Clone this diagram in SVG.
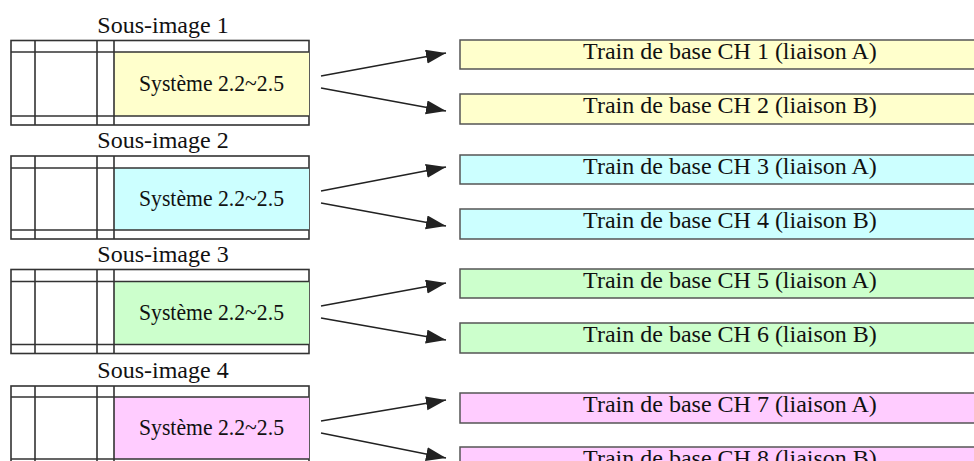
<svg xmlns="http://www.w3.org/2000/svg" width="974" height="461" viewBox="0 0 974 461">
<style>
text{font-family:"Liberation Serif","Times New Roman",serif;font-size:24px;fill:#111;text-anchor:middle}
.grid{fill:none;stroke:#333;stroke-width:1.6}
.cell{fill:#fff;stroke:#333;stroke-width:1.6}
.ch{stroke:#555;stroke-width:1.5}
.y{fill:#FFFFCC}.c{fill:#CCFFFF}.g{fill:#CCFFCC}.p{fill:#FFCCFF}
.arr{stroke:#222;stroke-width:1.5;fill:none;marker-end:url(#ah)}
</style>
<defs>
<marker id="ah" markerUnits="userSpaceOnUse" markerWidth="21" markerHeight="15" refX="20" refY="7" orient="auto">
<path d="M0,0 L20,7 L0,14 z" fill="#222"/>
</marker>
</defs>
<rect width="974" height="461" fill="#fff"/>

<g id="sub1">
<text x="163" y="32.5">Sous-image 1</text>
<rect class="cell" x="11" y="40.5" width="298" height="84.5"/>
<rect class="y" x="114" y="52" width="195" height="64"/>
<path class="grid" d="M11,52H309M11,116H309M35,40.5V125M97,40.5V125M114,40.5V125"/>
<text x="211.5" y="91" textLength="145" lengthAdjust="spacingAndGlyphs">Système 2.2~2.5</text>
</g>
<g id="sub2">
<text x="163" y="148">Sous-image 2</text>
<rect class="cell" x="11" y="156" width="298" height="83"/>
<rect class="c" x="114" y="168" width="195" height="62"/>
<path class="grid" d="M11,168H309M11,230H309M35,156V239M97,156V239M114,156V239"/>
<text x="211.5" y="206" textLength="145" lengthAdjust="spacingAndGlyphs">Système 2.2~2.5</text>
</g>
<g id="sub3">
<text x="163" y="261.5">Sous-image 3</text>
<rect class="cell" x="11" y="269.5" width="298" height="84"/>
<rect class="g" x="114" y="281.5" width="195" height="63"/>
<path class="grid" d="M11,281.5H309M11,344.5H309M35,269.5V353.5M97,269.5V353.5M114,269.5V353.5"/>
<text x="211.5" y="320" textLength="145" lengthAdjust="spacingAndGlyphs">Système 2.2~2.5</text>
</g>
<g id="sub4">
<text x="163" y="378">Sous-image 4</text>
<rect class="cell" x="11" y="386" width="298" height="82"/>
<rect class="p" x="114" y="397" width="195" height="62"/>
<path class="grid" d="M11,397H309M11,459H309M35,386V468M97,386V468M114,386V468"/>
<text x="211.5" y="435" textLength="145" lengthAdjust="spacingAndGlyphs">Système 2.2~2.5</text>
</g>

<g id="ch1"><rect class="ch y" x="460" y="40" width="540" height="29"/><text x="730" y="59">Train de base CH 1 (liaison A)</text></g>
<g id="ch2"><rect class="ch y" x="460" y="94" width="540" height="30"/><text x="730" y="113">Train de base CH 2 (liaison B)</text></g>
<g id="ch3"><rect class="ch c" x="460" y="155" width="540" height="29"/><text x="730" y="174">Train de base CH 3 (liaison A)</text></g>
<g id="ch4"><rect class="ch c" x="460" y="209" width="540" height="30"/><text x="730" y="228">Train de base CH 4 (liaison B)</text></g>
<g id="ch5"><rect class="ch g" x="460" y="269" width="540" height="29"/><text x="730" y="288">Train de base CH 5 (liaison A)</text></g>
<g id="ch6"><rect class="ch g" x="460" y="323" width="540" height="30"/><text x="730" y="342">Train de base CH 6 (liaison B)</text></g>
<g id="ch7"><rect class="ch p" x="460" y="393" width="540" height="30"/><text x="730" y="412">Train de base CH 7 (liaison A)</text></g>
<g id="ch8"><rect class="ch p" x="460" y="447" width="540" height="30"/><text x="730" y="466">Train de base CH 8 (liaison B)</text></g>

<g id="connectors">
<line class="arr" x1="321" y1="76" x2="446" y2="53"/>
<line class="arr" x1="321" y1="88" x2="446" y2="111"/>
<line class="arr" x1="321" y1="191" x2="446" y2="167"/>
<line class="arr" x1="321" y1="203" x2="446" y2="226"/>
<line class="arr" x1="321" y1="306" x2="446" y2="283"/>
<line class="arr" x1="321" y1="318" x2="446" y2="340"/>
<line class="arr" x1="321" y1="421" x2="446" y2="400"/>
<line class="arr" x1="321" y1="433" x2="446" y2="458"/>
</g>
</svg>
